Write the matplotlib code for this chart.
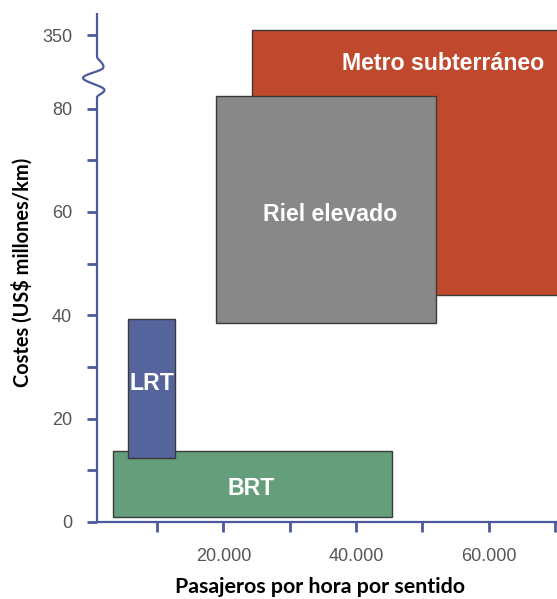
import numpy as np
import matplotlib
matplotlib.use("Agg")
import matplotlib.pyplot as plt
from matplotlib.patches import Rectangle
from matplotlib.lines import Line2D

# ---- data ----
modes = ["Metro subterráneo", "Riel elevado", "BRT", "LRT"]
pax_min = [24300, 18900, 3400, 5600]
pax_max = [72000, 52000, 45400, 12700]
cost_min = [43.9, 38.5, 1.0, 12.4]
cost_max = [380.0, 82.4, 13.7, 39.3]
colors = ["#c0492d", "#878887", "#649e7b", "#56649d"]
label_x = [53200, 36100, 24200, 9200]
label_y = [190.0, 59.5, 6.5, 26.8]

y_major = [0, 20, 40, 60, 80, 350]
y_minor = [10, 30, 50, 70]
x_major = [20000, 40000, 60000]
x_major_labels = ["20.000", "40.000", "60.000"]
x_minor = [10000, 30000, 50000, 70000]

# broken-axis scale: linear up to BREAK, compressed above
BREAK = 85.0
K = 0.0349


def fwd(y):
    y = np.asarray(y, dtype=float)
    return np.where(y <= BREAK, y, BREAK + (y - BREAK) * K)


def inv(y):
    y = np.asarray(y, dtype=float)
    return np.where(y <= BREAK, y, BREAK + (y - BREAK) / K)


W, H = 557, 599
fig = plt.figure(figsize=(W / 100, H / 100), dpi=100)
ax = fig.add_axes([97 / W, 77 / H, 460 / W, 509 / H])
ax.set_yscale("function", functions=(fwd, inv))
ax.set_xlim(950, 70300)
ax.set_ylim(0, 472)

for i, (x0, x1, y0, y1, c) in enumerate(zip(pax_min, pax_max, cost_min, cost_max, colors)):
    ax.add_patch(Rectangle((x0, y0), x1 - x0, y1 - y0, facecolor=c,
                           edgecolor="#3a3a3a", linewidth=1.0, zorder=2 + i * 0.1))

for m, lx, ly in zip(modes, label_x, label_y):
    ax.text(lx, ly, m, color="white", fontsize=16.7, fontweight="bold",
            family=["Liberation Sans", "DejaVu Sans"], ha="center", va="center", zorder=5)

axis_col = "#4b5a9c"
for sp in ["top", "right", "left"]:
    ax.spines[sp].set_visible(False)
ax.spines["bottom"].set_color(axis_col)
ax.spines["bottom"].set_linewidth(1.6)

# left spine with break wave (axes coords, built in pixels)
ah = 509.0
aw = 460.0
wave = np.array([[0, 50], [0, 57], [6, 68], [-14, 78], [7, 89], [0, 97], [0, 104]], dtype=float)
seg = []
for i in range(1, len(wave) - 2):
    p0, p1, p2, p3 = wave[i - 1], wave[i], wave[i + 1], wave[i + 2]
    t = np.linspace(0, 1, 30)[:, None]
    c = 0.5 * ((2 * p1) + (-p0 + p2) * t + (2 * p0 - 5 * p1 + 4 * p2 - p3) * t ** 2
               + (-p0 + 3 * p1 - 3 * p2 + p3) * t ** 3)
    seg.append(c)
curve = np.vstack([[[0, 13]], np.vstack(seg), [[0, 523]]])
xa = curve[:, 0] / aw
ya = (522 - curve[:, 1]) / ah
ax.add_line(Line2D(xa, ya, transform=ax.transAxes, color=axis_col, lw=1.6,
                   clip_on=False, zorder=6, solid_capstyle="butt"))

tickfont = ["Liberation Sans Narrow", "Liberation Sans", "DejaVu Sans"]
ax.set_yticks(y_major)
ax.set_yticklabels([str(v) for v in y_major])
ax.set_yticks(y_minor, minor=True)
ax.set_xticks(x_major)
ax.set_xticklabels(x_major_labels)
ax.set_xticks(x_minor, minor=True)
for which in ["major", "minor"]:
    ax.tick_params(axis="y", which=which, direction="out", length=7.5, width=2.0,
                   color=axis_col, pad=10.5)
    ax.tick_params(axis="x", which=which, direction="out", length=7.5, width=2.0,
                   color=axis_col, pad=11)
for lab in ax.get_xticklabels() + ax.get_yticklabels():
    lab.set_family(tickfont)
    lab.set_fontsize(13)
    lab.set_color("#555555")

fig.text(320 / W, 1 - 587 / H, "Pasajeros por hora por sentido", fontsize=15.4,
         fontweight="bold", family=["Lato", "DejaVu Sans"], ha="center", va="center")
fig.text(22 / W, 1 - 272 / H, "Costes (US$ millones/km)", fontsize=14.4,
         fontweight="bold", family=["Lato", "DejaVu Sans"], ha="center", va="center",
         rotation=90)

fig.savefig("out.png", dpi=100)
